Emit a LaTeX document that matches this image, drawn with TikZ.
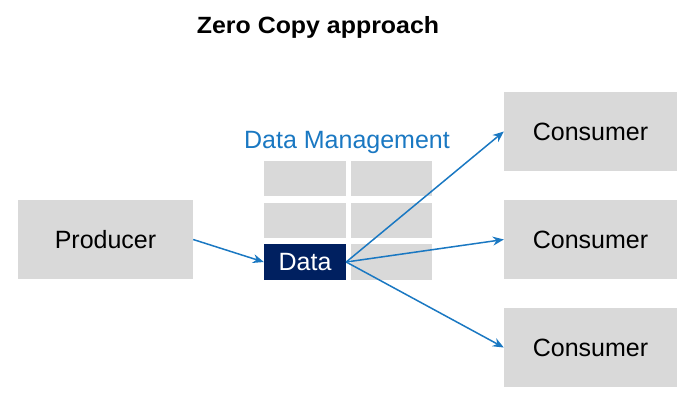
\documentclass[tikz,border=0pt]{standalone}
\usepackage{fontspec}
\setmainfont{Liberation Sans}
\newfontfamily\titlefont[FakeStretch=1.06]{Liberation Sans}
\usetikzlibrary{arrows.meta}
\definecolor{boxgrey}{HTML}{D9D9D9}
\definecolor{navy}{HTML}{002060}
\definecolor{arrblue}{HTML}{1A78C2}
\begin{document}
\begin{tikzpicture}[x=1pt,y=-1pt,
  greybox/.style={fill=boxgrey,draw=none,inner sep=0pt,font=\fontsize{25}{30}\selectfont},
  cell/.style={fill=boxgrey,draw=none,inner sep=0pt},
  conn/.style={draw=arrblue,line width=1.5pt,-{Stealth[length=11pt,width=9pt]}}]
\useasboundingbox (0,0) rectangle (700,409);
\node[font=\titlefont\bfseries\fontsize{23.5}{28}\selectfont,anchor=base] (title) at (318,33.5) {Zero Copy approach};
\node[greybox,minimum width=175pt,minimum height=79pt] (prod) at (105.5,239.5) {Producer};
\node[greybox,minimum width=173pt,minimum height=79pt] (c1) at (590.5,131.5) {Consumer};
\node[greybox,minimum width=173pt,minimum height=79pt] (c2) at (590.5,239.5) {Consumer};
\node[greybox,minimum width=173pt,minimum height=79pt] (c3) at (590.5,347.5) {Consumer};
\node[cell,minimum width=82pt,minimum height=35pt] (g11) at (305,178.5) {};
\node[cell,minimum width=81pt,minimum height=35pt] (g12) at (391.5,178.5) {};
\node[cell,minimum width=82pt,minimum height=35pt] (g21) at (305,220.5) {};
\node[cell,minimum width=81pt,minimum height=35pt] (g22) at (391.5,220.5) {};
\node[cell,minimum width=81pt,minimum height=36pt] (g32) at (391.5,262) {};
\node[fill=navy,text=white,inner sep=0pt,minimum width=82pt,minimum height=36pt,font=\fontsize{25}{30}\selectfont] (data) at (305,262) {Data};
\node[text=arrblue,font=\fontsize{25}{30}\selectfont] (dm) at (347,142) {Data Management};
\draw[conn] (prod.east) -- (data.west);
\draw[conn] (data.east) -- (c1.west);
\draw[conn] (data.east) -- (c2.west);
\draw[conn] (data.east) -- (c3.west);
\end{tikzpicture}
\end{document}
